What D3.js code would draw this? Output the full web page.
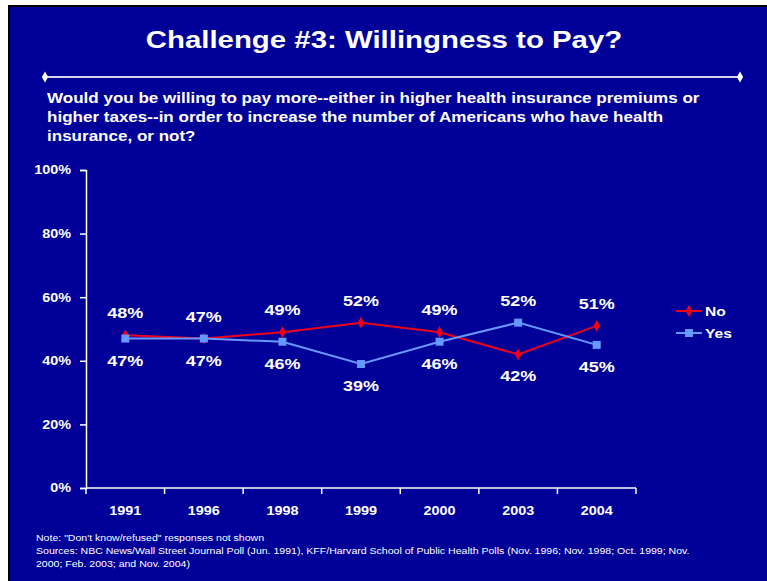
<!DOCTYPE html>
<html>
<head>
<meta charset="utf-8">
<script src="https://cdn.jsdelivr.net/npm/d3@7"></script>
<style>
  body { margin: 0; background: #fff; }
  text { font-family: "Liberation Sans", Arial, sans-serif; fill: #fff; }
</style>
</head>
<body>
<div id="chart"></div>
<script>
const years = ['1991', '1996', '1998', '1999', '2000', '2003', '2004'];
const noValues = [48, 47, 49, 52, 49, 42, 51];
const yesValues = [47, 47, 46, 39, 46, 52, 45];
const yTicks = [0, 20, 40, 60, 80, 100];
const titleText = 'Challenge #3: Willingness to Pay?';
const questionLines = [
  'Would you be willing to pay more--either in higher health insurance premiums or',
  'higher taxes--in order to increase the number of Americans who have health',
  'insurance, or not?'
];
const noteLines = [
  'Note: "Don\'t know/refused" responses not shown',
  'Sources: NBC News/Wall Street Journal Poll (Jun. 1991), KFF/Harvard School of Public Health Polls (Nov. 1996; Nov. 1998; Oct. 1999; Nov.',
  '2000; Feb. 2003; and Nov. 2004)'
];

const width = 767, height = 581;
const margin = {top: 170, right: 131, bottom: 93, left: 86};
const stretch = 1.2;  // slide text looks stretched sideways

const svg = d3.select('#chart').append('svg')
  .attr('width', width)
  .attr('height', height);

svg.append('rect').attr('x', 8).attr('y', 5).attr('width', width - 8).attr('height', height - 5).attr('fill', '#000');
svg.append('rect').attr('x', 10).attr('y', 7).attr('width', width - 10).attr('height', height - 7).attr('fill', '#000099');

// text helper, keeps the wide look of the slide
function label(g, x, y, str, size, weight, anchor){
  return g.append('text')
    .attr('transform', `translate(${x},${y}) scale(${stretch},1)`)
    .attr('font-size', size)
    .attr('font-weight', weight || 'bold')
    .attr('text-anchor', anchor || 'start')
    .text(str);
}

label(svg, 384, 48, titleText, 24.5, 'bold', 'middle');

// rule under title
svg.append('line')
  .attr('x1', 45).attr('x2', 740).attr('y1', 77).attr('y2', 77)
  .attr('stroke', '#d4d4ee').attr('stroke-width', 2.2);
svg.selectAll('.endDiamond')
  .data([45, 740])
  .enter().append('path')
    .attr('d', d3.symbol(d3.symbolDiamond, 34))
    .attr('transform', d => `translate(${d},77)`)
    .attr('fill', '#fff');

questionLines.forEach((l, i) => label(svg, 47, 103 + i * 19, l, 14.2));

const xScale = d3.scaleBand()
  .domain(years)
  .range([margin.left, width - margin.right]);
const yScale = d3.scaleLinear()
  .domain([0, 100])
  .range([height - margin.bottom, margin.top]);
const cx = d => xScale(d) + xScale.bandwidth() / 2;

// y axis
const yAxis = svg.append('g')
  .attr('transform', `translate(${margin.left},0)`)
  .call(d3.axisLeft(yScale).tickValues(yTicks).tickSize(6).tickFormat(d => d + '%'));
yAxis.selectAll('path, line').attr('stroke', '#fff').attr('stroke-width', 1.5);
yAxis.selectAll('.tick text')
  .attr('x', null)
  .attr('transform', `translate(-15,0) scale(${stretch},1)`)
  .attr('font-size', 12)
  .attr('font-weight', 'bold')
  .attr('font-family', '"Liberation Sans", Arial, sans-serif')
  .attr('fill', '#fff');

// x axis with ticks between categories
const xAxis = svg.append('g')
  .attr('transform', `translate(0,${height - margin.bottom})`);
xAxis.append('line')
  .attr('x1', margin.left).attr('x2', width - margin.right)
  .attr('stroke', '#fff').attr('stroke-width', 1.5);
xAxis.selectAll('.xtick')
  .data(years.map(d => xScale(d)).concat([width - margin.right]))
  .enter().append('line')
    .attr('x1', d => d).attr('x2', d => d)
    .attr('y1', 0).attr('y2', 6)
    .attr('stroke', '#fff').attr('stroke-width', 1.5);
years.forEach(d => label(xAxis, cx(d), 27, d, 12, 'bold', 'middle'));

const series = [
  {name: 'No', values: noValues, color: '#f00018', symbol: d3.symbolDiamond, size: 40},
  {name: 'Yes', values: yesValues, color: '#6699ff', symbol: d3.symbolSquare, size: 64}
];

const line = d3.line()
  .x((d, i) => cx(years[i]))
  .y(d => yScale(d));

series.forEach(s => {
  svg.append('path')
    .attr('d', line(s.values))
    .attr('fill', 'none')
    .attr('stroke', s.color)
    .attr('stroke-width', 2);
  svg.selectAll(null)
    .data(s.values)
    .enter().append('path')
      .attr('d', d3.symbol(s.symbol, s.size))
      .attr('transform', (d, i) => `translate(${cx(years[i])},${yScale(d)})`)
      .attr('fill', s.color);
});

// value labels: higher value sits above, lower below
years.forEach((yr, i) => {
  const n = noValues[i], y = yesValues[i];
  const upper = n >= y ? n : y, lower = n >= y ? y : n;
  label(svg, cx(yr), yScale(upper) - 17, upper + '%', 15, 'bold', 'middle');
  label(svg, cx(yr), yScale(lower) + 27, lower + '%', 15, 'bold', 'middle');
});

// legend
series.forEach((s, i) => {
  const ly = 311 + i * 22;
  svg.append('line')
    .attr('x1', 676).attr('x2', 702).attr('y1', ly).attr('y2', ly)
    .attr('stroke', s.color).attr('stroke-width', 2);
  svg.append('path')
    .attr('d', d3.symbol(s.symbol, s.size))
    .attr('transform', `translate(689,${ly})`)
    .attr('fill', s.color);
  label(svg, 705, ly + 5, s.name, 13);
});

noteLines.forEach((l, i) => label(svg, 36, 541 + i * 13, l, 8.8, 'normal'));
</script>
</body>
</html>
